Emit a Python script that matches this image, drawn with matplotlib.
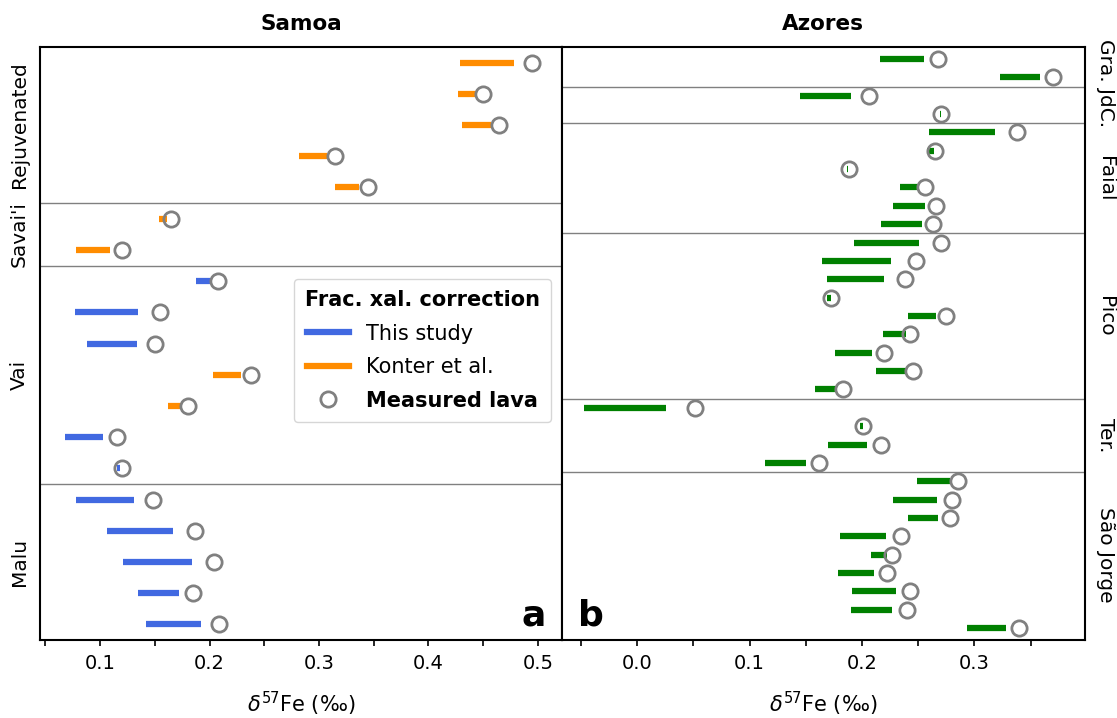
import matplotlib.pyplot as plt
from matplotlib.lines import Line2D
from matplotlib.ticker import MultipleLocator
import matplotlib.transforms as mtransforms

# Samoa (top to bottom within each group): corrected range low/high, measured lava
sam_groups = ["Rejuvenated", "Savai'i", "Vai", "Malu"]
sam_lo = [[0.429, 0.427, 0.431, 0.282, 0.315],
          [0.154, 0.078],
          [0.188, 0.077, 0.088, 0.203, 0.162, 0.068, 0.115],
          [0.078, 0.106, 0.121, 0.135, 0.142]]
sam_hi = [[0.478, 0.444, 0.457, 0.307, 0.337],
          [0.161, 0.109],
          [0.201, 0.135, 0.134, 0.229, 0.175, 0.103, 0.118],
          [0.131, 0.167, 0.184, 0.172, 0.192]]
sam_meas = [[0.495, 0.450, 0.465, 0.315, 0.345],
            [0.165, 0.120],
            [0.208, 0.155, 0.150, 0.238, 0.180, 0.115, 0.120],
            [0.148, 0.187, 0.204, 0.185, 0.209]]
# K = Konter et al. correction, T = this study
sam_src = [["K", "K", "K", "K", "K"],
           ["K", "K"],
           ["T", "T", "T", "K", "K", "T", "T"],
           ["T", "T", "T", "T", "T"]]

# Azores
azo_groups = ["Gra.", "JdC.", "Faial", "Pico", "Ter.", "São Jorge"]
azo_lo = [[0.216, 0.323],
          [0.145, 0.2693],
          [0.260, 0.258, 0.1866, 0.234, 0.228, 0.217],
          [0.193, 0.164, 0.169, 0.169, 0.241, 0.219, 0.176, 0.212, 0.158],
          [-0.047, 0.1985, 0.170, 0.114],
          [0.249, 0.228, 0.241, 0.180, 0.208, 0.179, 0.191, 0.190, 0.293]]
azo_hi = [[0.255, 0.358],
          [0.190, 0.2702],
          [0.318, 0.264, 0.1876, 0.250, 0.256, 0.253],
          [0.251, 0.226, 0.220, 0.172, 0.266, 0.239, 0.209, 0.239, 0.178],
          [0.026, 0.201, 0.204, 0.150],
          [0.278, 0.267, 0.268, 0.221, 0.222, 0.211, 0.230, 0.227, 0.328]]
azo_meas = [[0.268, 0.370],
            [0.206, 0.270],
            [0.338, 0.265, 0.188, 0.256, 0.266, 0.263],
            [0.270, 0.248, 0.238, 0.172, 0.275, 0.243, 0.220, 0.245, 0.183],
            [0.051, 0.201, 0.217, 0.162],
            [0.285, 0.280, 0.278, 0.235, 0.227, 0.222, 0.243, 0.240, 0.340]]

colors = {"T": "royalblue", "K": "darkorange", "A": "green"}
BAR_LW = 4.5
FS = 14.5


def draw_panel(ax, lo, hi, meas, src, groups):
    row = 0
    bounds = []
    centers = []
    for g in range(len(groups)):
        start = row
        for i in range(len(meas[g])):
            c = colors[src[g][i]] if src else colors["A"]
            ax.plot([lo[g][i], hi[g][i]], [row, row], color=c, lw=BAR_LW,
                    solid_capstyle="butt", zorder=2)
            ax.plot(meas[g][i], row, "o", ms=11, mfc="none", mec="gray",
                    mew=2, zorder=3)
            row += 1
        centers.append((start + row - 1) / 2)
        bounds.append(row - 0.5)
    for b in bounds[:-1]:
        ax.axhline(b, color="gray", lw=1.0, zorder=1)
    return row, centers


fig = plt.figure(figsize=(11.17, 7.18), dpi=100)
ax1 = fig.add_axes([0.0358, 0.1086, 0.4672, 0.8259])
ax2 = fig.add_axes([0.503, 0.1086, 0.468, 0.8259])

n1, c1 = draw_panel(ax1, sam_lo, sam_hi, sam_meas, sam_src, sam_groups)
n2, c2 = draw_panel(ax2, azo_lo, azo_hi, azo_meas, None, azo_groups)

# group names beside each panel
tr1 = mtransforms.blended_transform_factory(ax1.transAxes, ax1.transData)
for name, y in zip(sam_groups, c1):
    ax1.text(-0.04, y, name, rotation=90, ha="center", va="center",
             fontsize=FS, transform=tr1)
tr2 = mtransforms.blended_transform_factory(ax2.transAxes, ax2.transData)
# the two small northern islands share one label
ax2.text(1.04, (c2[0] + c2[1]) / 2 - 0.2, " ".join(azo_groups[:2]), rotation=270,
         ha="center", va="center", fontsize=FS, transform=tr2)
for name, y in zip(azo_groups[2:], c2[2:]):
    ax2.text(1.04, y, name, rotation=270, ha="center", va="center",
             fontsize=FS, transform=tr2)

ax1.set_ylim(n1 - 0.5, -0.5)
ax2.set_ylim(n2 - 0.35, -0.65)
ax1.set_xlim(0.045, 0.522)
ax2.set_xlim(-0.067, 0.398)

for ax, title in [(ax1, "Samoa"), (ax2, "Azores")]:
    ax.set_yticks([])
    ax.xaxis.set_major_locator(MultipleLocator(0.1))
    ax.xaxis.set_minor_locator(MultipleLocator(0.05))
    ax.tick_params(axis="x", which="both", labelsize=14, length=4, width=1.2,
                   pad=6)
    for s in ax.spines.values():
        s.set_linewidth(1.5)
    ax.set_title(title, fontsize=15.5, fontweight="bold", pad=12)
    ax.set_xlabel(r"$\delta^{57}$Fe (‰)", fontsize=15, labelpad=12)

ax1.text(0.97, 0.012, "a", transform=ax1.transAxes, fontsize=26,
         fontweight="bold", ha="right", va="bottom")
ax2.text(0.03, 0.012, "b", transform=ax2.transAxes, fontsize=26,
         fontweight="bold", ha="left", va="bottom")

handles = [Line2D([], [], color="royalblue", lw=BAR_LW),
           Line2D([], [], color="darkorange", lw=BAR_LW),
           Line2D([], [], ls="none", marker="o", ms=11, mfc="none",
                  mec="gray", mew=2)]
leg = ax1.legend(handles, ["This study", "Konter et al.", "Measured lava"],
                 title="Frac. xal. correction", loc="upper right",
                 bbox_to_anchor=(1.0, 0.627), fontsize=15, labelspacing=0.65,
                 borderpad=0.55,
                 title_fontproperties={"weight": "bold", "size": 15})
leg.get_texts()[2].set_fontweight("bold")

fig.savefig("out.png", dpi=100)
